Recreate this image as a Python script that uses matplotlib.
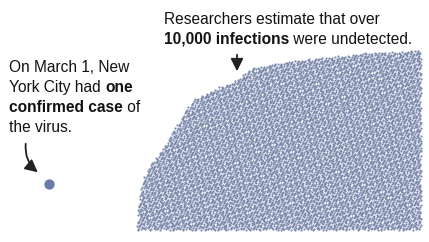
import numpy as np
import matplotlib
matplotlib.use("Agg")
import matplotlib.pyplot as plt
from matplotlib.patches import FancyArrowPatch

# Data
confirmed_cases = 1
estimated_infections = 10000
# top edge of the cloud of estimated infections (pixel x, pixel y)
profile_x = [137, 139, 143, 150, 160, 172, 183, 193, 207, 220, 233, 253, 267, 300, 333, 367, 400, 421]
profile_top = [228, 200, 178, 165, 153, 133, 115, 100, 93, 87, 82, 68, 65, 60, 57, 53, 52, 50]
cloud_bottom = 230

dot_color = "#7886aa"
single_color = "#6b7aa6"

fig = plt.figure(figsize=(4.29, 2.42), dpi=100)
ax = fig.add_axes([0, 0, 1, 1])
ax.set_xlim(0, 429)
ax.set_ylim(242, 0)
ax.axis("off")

# even (low-discrepancy R2) layout of the estimated infections under the profile
g = 1.32471795724474602596
a1, a2 = 1 / g, 1 / g ** 2
x0, x1 = profile_x[0], profile_x[-1]
y0, y1 = min(profile_top), cloud_bottom
pts = []
n = 0
while len(pts) < estimated_infections:
    n += 1
    u = (0.5 + a1 * n) % 1
    v = (0.5 + a2 * n) % 1
    px = x0 + u * (x1 - x0)
    py = y0 + v * (y1 - y0)
    if py >= np.interp(px, profile_x, profile_top):
        pts.append((px, py))
pts = np.array(pts)
ax.scatter(pts[:, 0], pts[:, 1], s=2.4, c=dot_color, linewidths=0)

# the single confirmed case
ax.scatter([49] * confirmed_cases, [184] * confirmed_cases, s=55, c=single_color, linewidths=0)

fam = ["Liberation Sans", "DejaVu Sans"]
fs = 11.2
# left annotation
left_lines = [
    [("On March 1, New", "normal")],
    [("York City had ", "normal"), ("one", "bold")],
    [("confirmed case", "bold"), (" of", "normal")],
    [("the virus.", "normal")],
]
def draw_lines(lines, x0, y0, dy):
    for i, parts in enumerate(lines):
        t = None
        for j, (s, w) in enumerate(parts):
            if j == 0:
                t = ax.text(x0, y0 + i * dy, s, fontsize=fs, fontweight=w, family=fam,
                            va="center", ha="left", color="#121212")
            else:
                t = ax.annotate(s, xycoords=t, xy=(1, 0), va="bottom", ha="left",
                                fontsize=fs, fontweight=w, family=fam, color="#121212")

draw_lines(left_lines, 9, 68, 19.7)

top_lines = [
    [("Researchers estimate that over", "normal")],
    [("10,000 infections", "bold"), (" were undetected.", "normal")],
]
draw_lines(top_lines, 164, 19, 20.5)

# arrows
ax.add_patch(FancyArrowPatch((26, 141), (40, 174), connectionstyle="arc3,rad=0.3",
                             arrowstyle="-|>,head_length=5,head_width=2.5", color="#222222", lw=1.3,
                             mutation_scale=1.5))
ax.add_patch(FancyArrowPatch((237, 52), (237, 74),
                             arrowstyle="-|>,head_length=5,head_width=2.5", color="#222222", lw=1.3,
                             mutation_scale=1.5))

fig.savefig("out.png", dpi=100)
